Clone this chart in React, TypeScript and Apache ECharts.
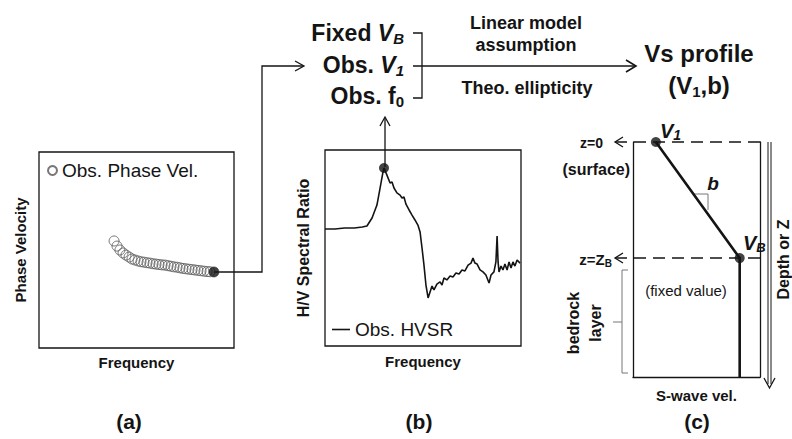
import React, { useEffect, useRef } from 'react';
import * as echarts from 'echarts';

const FONT = '"Liberation Sans", Arial, sans-serif';
const INK = '#141414';

// (a) observed phase velocity dispersion (arbitrary units)
const phaseFreq = [38.5, 40.0, 41.5, 43.1, 44.6, 46.2, 47.7, 49.2, 50.8, 52.3, 53.8, 55.4, 56.9, 58.5, 60.0, 61.5, 63.1, 64.6, 66.2, 67.7, 69.2, 70.8, 72.3, 73.8, 75.4, 76.9, 78.5, 80.0, 81.5, 83.1, 84.6, 86.2, 87.7, 89.7];
const phaseVel = [54.6, 52.0, 50.0, 48.5, 47.4, 46.4, 45.4, 44.9, 44.4, 44.0, 43.8, 43.5, 43.3, 43.0, 42.8, 42.6, 42.4, 42.3, 42.0, 41.7, 41.4, 41.2, 40.9, 40.6, 40.4, 40.2, 40.0, 39.8, 39.6, 39.4, 39.2, 39.0, 38.9, 38.8];

// (b) observed HVSR curve (arbitrary units)
const hvsrFreq = [0, 5, 10, 15, 19, 21.4, 24, 26.5, 28.1, 29.6, 30.1, 31.6, 33.2, 34.2, 35.2, 36.7, 38.3, 39.3, 40.3, 41.3, 42.9, 44.4, 45.9, 47.4, 48.5, 49.5, 50.5, 51.5, 52.6, 53.6, 54.6, 55.6, 57.1, 58.7, 59.7, 60.7, 62.2, 63.8, 65.3, 66.8, 68.4, 69.9, 71.4, 73, 74.5, 75.5, 76.5, 77.6, 79.1, 80.6, 82.1, 83.7, 84.7, 86.2, 87.2, 87.8, 88.3, 88.8, 89.8, 90.8, 91.8, 92.9, 93.9, 94.9, 95.9, 96.9, 98, 99.5];
const hvsrRatio = [59.7, 59.7, 60.2, 60.2, 60.7, 61.2, 65.3, 71.9, 80.6, 88.8, 90.8, 87.2, 83.2, 83.7, 80.6, 78.1, 77, 75.5, 76, 72.4, 69.4, 66.8, 64.3, 61.7, 58.2, 50, 41.3, 31.1, 24.5, 27.6, 30.6, 28.6, 31.6, 32.7, 31.1, 34.7, 33.7, 35.7, 35.2, 37.2, 36.7, 38.8, 38.3, 41.3, 42.3, 44.9, 42.3, 41.8, 38.8, 37.8, 36.2, 32.1, 36.2, 37.8, 42.9, 56.1, 42.9, 37.8, 40.8, 38.8, 41.8, 38.8, 42.9, 39.8, 42.9, 40.8, 43.9, 42.3];

// (c) linear Vs profile: velocity vs depth (arbitrary units)
const vsVelocity = [18, 84, 84];
const vsDepth = [0, 49.4, 100];

const panelLabels = ['(a)', '(b)', '(c)'];

type Pt = [number, number];

function seg(x1: number, y1: number, x2: number, y2: number, extra: any = {}) {
  return {
    type: 'line',
    shape: { x1, y1, x2, y2 },
    style: { stroke: INK, lineWidth: 1.3, ...extra },
    silent: true,
  };
}
function poly(points: Pt[], extra: any = {}) {
  return {
    type: 'polyline',
    shape: { points },
    style: { stroke: INK, lineWidth: 1.3, fill: 'none', ...extra },
    silent: true,
  };
}
function txt(x: number, y: number, text: string, style: any = {}, rotation = 0) {
  return {
    type: 'text',
    x,
    y,
    rotation,
    silent: true,
    style: {
      text,
      fill: INK,
      fontFamily: FONT,
      align: 'center',
      verticalAlign: 'middle',
      ...style,
    },
  };
}

const subRich = (size: number, sub: number, italicMain: boolean, italicSub: boolean, weight = 'bold', lh = 26) => ({
  n: { fontSize: size, fontWeight: weight, fontFamily: FONT, fill: INK, lineHeight: lh },
  i: { fontSize: size, fontWeight: weight, fontStyle: italicMain ? 'italic' : 'normal', fontFamily: FONT, fill: INK, lineHeight: lh },
  s: { fontSize: sub, fontWeight: weight, fontStyle: italicSub ? 'italic' : 'normal', fontFamily: FONT, fill: INK, lineHeight: sub, verticalAlign: 'bottom' },
});

export default function App() {
  const ref = useRef<HTMLDivElement>(null);

  useEffect(() => {
    if (!ref.current) return;
    const chart = echarts.init(ref.current, null, { renderer: 'svg' });

    const phasePts = phaseFreq.map((f, i) => [f, phaseVel[i]]);
    const lastPhase = phasePts[phasePts.length - 1];
    const hvsrPts = hvsrFreq.map((f, i) => [f, hvsrRatio[i]]);
    let peakIdx = 0;
    hvsrRatio.forEach((v, i) => { if (v > hvsrRatio[peakIdx]) peakIdx = i; });
    const peakPt = hvsrPts[peakIdx];
    const vsPts = vsVelocity.map((v, i) => [v, vsDepth[i]]);

    const nameStyle = { fontFamily: FONT, fontWeight: 'bold', fontSize: 15, color: INK };
    const hiddenAxis = {
      type: 'value', min: 0, max: 100,
      axisLine: { show: false }, axisTick: { show: false }, axisLabel: { show: false }, splitLine: { show: false },
      nameLocation: 'middle', nameTextStyle: nameStyle,
    };
    const frameAxis = {
      type: 'value', min: 0, max: 100,
      axisLine: { show: true, onZero: false, lineStyle: { color: INK, width: 1.3 } },
      axisTick: { show: false }, axisLabel: { show: false }, splitLine: { show: false },
      nameLocation: 'middle', nameTextStyle: nameStyle,
    };

    const graphic: any[] = [
      // connector from (a) to Obs. V1
      poly([[214, 272], [262, 272], [262, 66], [303, 66]]),
      poly([[295, 61], [304, 66], [295, 71]]),
      // bracket
      poly([[413, 33], [422, 33], [422, 98], [413, 98]]),
      // main arrow
      seg(413, 66, 635, 66, { lineWidth: 1.6 }),
      poly([[626, 60], [636, 66], [626, 72]], { lineWidth: 1.6 }),
      // up arrow from HVSR peak
      seg(385, 167, 385, 118),
      poly([[380, 126], [385, 117], [390, 126]]),
      // z=0 and z=ZB dashed levels with arrows
      poly([[623, 137], [615, 142], [623, 147]]),
      seg(615, 142, 762, 142, { lineDash: [12, 7], lineWidth: 1.5 }),
      poly([[623, 253], [615, 258], [623, 263]]),
      seg(615, 258, 762, 258, { lineDash: [12, 7], lineWidth: 1.5 }),
      // slope triangle
      poly([[693, 194], [708, 194], [708, 210]], { stroke: '#777', lineWidth: 1 }),
      // bedrock bracket
      poly([[628, 270], [622, 270], [622, 373], [628, 373]], { stroke: '#777', lineWidth: 1 }),
      seg(613, 322, 622, 322, { stroke: '#777', lineWidth: 1 }),
      // depth arrow
      seg(768, 142, 768, 384, { lineWidth: 1 }),
      seg(771, 142, 771, 384, { lineWidth: 1 }),
      poly([[764, 378], [769.5, 388], [775, 378]], { lineWidth: 1.3 }),

      // top texts
      txt(404, 33, '{n|Fixed }{i|V}{s|B}', { align: 'right', rich: subRich(23, 15, true, true) }),
      txt(404, 65, '{n|Obs. }{i|V}{s|1}', { align: 'right', rich: subRich(23, 15, true, true) }),
      txt(404, 96, '{n|Obs. f}{s|0}', { align: 'right', rich: subRich(23, 15, false, false) }),
      txt(526, 23, 'Linear model', { fontSize: 18, fontWeight: 'bold' }),
      txt(526, 45, 'assumption', { fontSize: 18, fontWeight: 'bold' }),
      txt(527, 88, 'Theo. ellipticity', { fontSize: 18, fontWeight: 'bold' }),
      txt(699, 53, 'Vs profile', { fontSize: 24, fontWeight: 'bold' }),
      txt(699, 85, '{n|(V}{s|1}{n|,b)}', { rich: subRich(24, 15, false, false, 'bold', 28) }),

      // panel (c) annotations
      txt(603, 143, 'z=0', { align: 'right', fontSize: 14, fontWeight: 'bold' }),
      txt(630, 169, '(surface)', { align: 'right', fontSize: 16, fontWeight: 'bold' }),
      txt(612, 259, '{n|z=Z}{s|B}', { align: 'right', rich: subRich(15, 10, false, false, 'bold', 18) }),
      txt(660, 131, '{i|V}{s|1}', { align: 'left', rich: subRich(20, 14, true, true, 'bold', 22) }),
      txt(743, 243, '{i|V}{s|B}', { align: 'left', rich: subRich(20, 13, true, true, 'bold', 22) }),
      txt(713, 183, 'b', { fontSize: 19, fontWeight: 'bold', fontStyle: 'italic' }),
      txt(686, 290, '(fixed value)', { fontSize: 15 }),
      txt(584, 323, 'bedrock\nlayer', { fontSize: 16, fontWeight: 'bold', lineHeight: 22 }, Math.PI / 2),

      // panel labels
      txt(129, 421, panelLabels[0], { fontSize: 21, fontWeight: 'bold' }),
      txt(419, 421, panelLabels[1], { fontSize: 21, fontWeight: 'bold' }),
      txt(697, 421, panelLabels[2], { fontSize: 21, fontWeight: 'bold' }),
    ];

    const option: any = {
      animation: false,
      backgroundColor: '#fff',
      grid: [
        { left: 39, top: 152, width: 195, height: 196, show: true, borderColor: INK, borderWidth: 1.3, backgroundColor: 'transparent' },
        { left: 325, top: 150, width: 196, height: 196, show: true, borderColor: INK, borderWidth: 1.3, backgroundColor: 'transparent' },
        { left: 633, top: 142, width: 129, height: 235 },
      ],
      xAxis: [
        { ...hiddenAxis, gridIndex: 0, name: 'Frequency', nameGap: 7 },
        { ...hiddenAxis, gridIndex: 1, name: 'Frequency', nameGap: 8 },
        { ...frameAxis, gridIndex: 2, position: 'bottom', name: 'S-wave vel.', nameGap: 11 },
      ],
      yAxis: [
        { ...hiddenAxis, gridIndex: 0, name: 'Phase Velocity', nameGap: 11 },
        { ...hiddenAxis, gridIndex: 1, name: 'H/V Spectral Ratio', nameGap: 14, nameTextStyle: { ...nameStyle, fontSize: 16 } },
        { ...frameAxis, gridIndex: 2, inverse: true, position: 'left' },
        { ...frameAxis, gridIndex: 2, inverse: true, position: 'right', name: 'Depth or Z', nameGap: 15, nameTextStyle: { ...nameStyle, fontSize: 16 } },
      ],
      legend: [
        {
          data: ['Obs. Phase Vel.'], left: 47, top: 161, padding: 0, itemWidth: 9, itemHeight: 9,
          textStyle: { fontFamily: FONT, fontSize: 19, color: INK }, selectedMode: false,
        },
        {
          data: [{ name: 'Obs. HVSR', icon: 'rect' }], left: 332, top: 320, padding: 0, itemWidth: 18, itemHeight: 1.6,
          textStyle: { fontFamily: FONT, fontSize: 19, color: INK }, selectedMode: false,
        },
      ],
      series: [
        {
          name: 'Obs. Phase Vel.', type: 'scatter', xAxisIndex: 0, yAxisIndex: 0,
          symbol: 'circle', symbolSize: 10, data: phasePts,
          itemStyle: { color: 'rgba(255,255,255,0)', borderColor: '#555', borderWidth: 1 },
        },
        {
          name: 'phaseEnd', type: 'scatter', xAxisIndex: 0, yAxisIndex: 0,
          symbol: 'circle', symbolSize: 10, data: [lastPhase], itemStyle: { color: INK },
        },
        {
          name: 'Obs. HVSR', type: 'line', xAxisIndex: 1, yAxisIndex: 1, symbol: 'none',
          data: hvsrPts, lineStyle: { color: INK, width: 1.6 }, itemStyle: { color: INK },
        },
        {
          name: 'peak', type: 'scatter', xAxisIndex: 1, yAxisIndex: 1,
          symbol: 'circle', symbolSize: 10, data: [peakPt], itemStyle: { color: INK },
        },
        {
          name: 'Vs', type: 'line', xAxisIndex: 2, yAxisIndex: 2, symbol: 'none', clip: false,
          data: vsPts, lineStyle: { color: INK, width: 2.6 },
        },
        {
          name: 'VsPoints', type: 'scatter', xAxisIndex: 2, yAxisIndex: 2, clip: false,
          symbol: 'circle', symbolSize: 10, data: vsPts.slice(0, 2), itemStyle: { color: INK },
        },
      ],
      graphic,
    };

    chart.setOption(option);
    return () => chart.dispose();
  }, []);

  return (
    <div
      ref={ref}
      style={{ position: 'absolute', left: 0, top: 0, width: 792, height: 439, background: '#fff' }}
    />
  );
}
